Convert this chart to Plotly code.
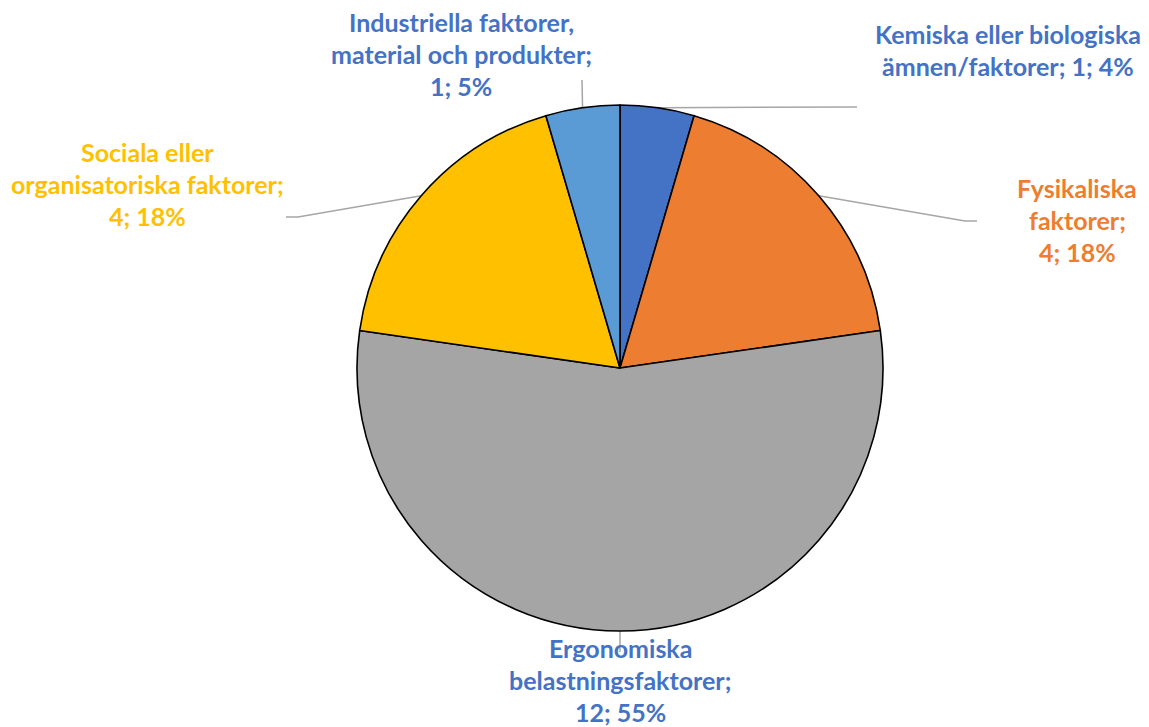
import math
import plotly.graph_objects as go

# ---- data ----
categories = [
    "Kemiska eller biologiska ämnen/faktorer",
    "Fysikaliska faktorer",
    "Ergonomiska belastningsfaktorer",
    "Sociala eller organisatoriska faktorer",
    "Industriella faktorer, material och produkter",
]
values = [1, 4, 12, 4, 1]
percent_labels = ["4%", "18%", "55%", "18%", "5%"]
label_lines = [
    ["Kemiska eller biologiska", "ämnen/faktorer; 1; 4%"],
    ["Fysikaliska", "faktorer;", "4; 18%"],
    ["Ergonomiska", "belastningsfaktorer;", "12; 55%"],
    ["Sociala eller", "organisatoriska faktorer;", "4; 18%"],
    ["Industriella faktorer,", "material och produkter;", "1; 5%"],
]

# ---- styles / layout ----
W, H = 1149, 727
slice_colors = ["#4472C4", "#ED7D31", "#A5A5A5", "#FFC000", "#5B9BD5"]
text_colors = ["#4472C4", "#ED7D31", "#4472C4", "#FFC000", "#4472C4"]
cx, cy, R = 620, 368, 263  # pie centre/radius in pixels

# label placement (pixel centre x, first line centre y)
label_pos = [(1008, 34), (1077, 188), (620, 648), (147, 152), (461, 22)]
line_step = 32.0
# leader line bend/end points (pixels) after leaving the slice midpoint
leader_ends = [
    [(857, 107)],
    [(965, 221), (977, 221)],
    [(620, 652)],
    [(298, 217), (286, 217)],
    [(582, 80)],
]

def px(x):
    return x / W

def py(y):
    return 1 - y / H

fig = go.Figure()
fig.add_trace(go.Pie(
    labels=categories,
    values=values,
    sort=False,
    direction="clockwise",
    rotation=0,
    textinfo="none",
    hoverinfo="label+value+percent",
    marker=dict(colors=slice_colors, line=dict(color="#000000", width=1.6)),
    domain=dict(x=[px(cx - R), px(cx + R)], y=[py(cy + R), py(cy - R)]),
    showlegend=False,
))

# leader lines from slice mid-angles
total = sum(values)
cum = 0
shapes = []
for i, v in enumerate(values):
    mid = (cum + v / 2) / total * 2 * math.pi
    cum += v
    sx = cx + R * math.sin(mid)
    sy = cy - R * math.cos(mid)
    pts = [(sx, sy)] + leader_ends[i]
    path = "M " + " L ".join(f"{px(a):.5f},{py(b):.5f}" for a, b in pts)
    shapes.append(dict(type="path", path=path, xref="paper", yref="paper",
                       line=dict(color="#A6A6A6", width=1.5), layer="below"))

annotations = []
for i, lines in enumerate(label_lines):
    x0, y0 = label_pos[i]
    for j, t in enumerate(lines):
        annotations.append(dict(
            text=t, x=px(x0), y=py(y0 + j * line_step), xref="paper", yref="paper",
            xanchor="center", yanchor="middle", showarrow=False,
            font=dict(family="Lato", size=25, color=text_colors[i], weight="bold"),
        ))

fig.update_layout(
    width=W, height=H,
    margin=dict(l=0, r=0, t=0, b=0),
    paper_bgcolor="white", plot_bgcolor="white",
    shapes=shapes, annotations=annotations,
)
fig.write_html(
    "out.html",
    config={"displayModeBar": False},
    post_script="document.body.style.margin='0';document.body.style.overflow='hidden';",
)
